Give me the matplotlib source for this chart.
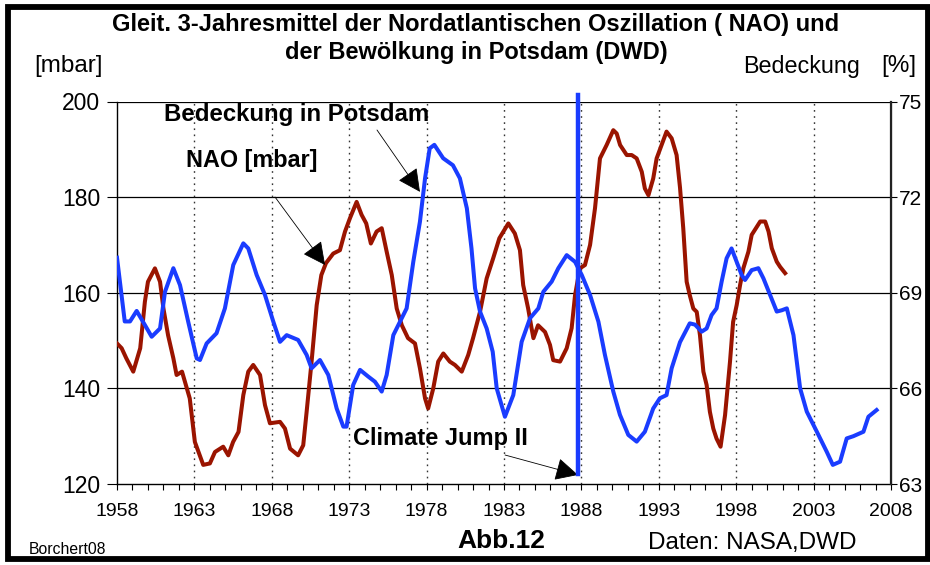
import matplotlib
matplotlib.use("Agg")
import matplotlib.pyplot as plt
from matplotlib.patches import Rectangle
from matplotlib.ticker import MultipleLocator

plt.rcParams['font.family'] = ['Liberation Sans', 'DejaVu Sans']

# ---- data -------------------------------------------------------------
bed_years = [1958.0, 1958.5, 1958.84, 1959.27, 1959.8, 1960.24, 1960.78, 1961.1, 1961.64, 1962.07,
             1962.6, 1963.15, 1963.36, 1963.79, 1964.43, 1964.97, 1965.51, 1966.16, 1966.48, 1967.02,
             1967.56, 1968.1, 1968.53, 1968.96, 1969.7, 1970.25, 1970.57, 1971.11, 1971.65, 1972.19,
             1972.62, 1972.83, 1973.26, 1973.7, 1974.23, 1974.66, 1975.1, 1975.42, 1975.85, 1976.28,
             1976.71, 1977.14, 1977.57, 1977.9, 1978.2, 1978.5, 1979.07, 1979.7, 1980.15, 1980.6,
             1980.9, 1981.13, 1981.45, 1981.88, 1982.27, 1982.53, 1983.06, 1983.6, 1984.14, 1984.68,
             1985.22, 1985.54, 1986.08, 1986.51, 1987.05, 1987.59, 1988.02, 1988.56, 1989.1, 1989.52,
             1990.06, 1990.49, 1991.03, 1991.57, 1992.1, 1992.64, 1993.07, 1993.5, 1993.83, 1994.37,
             1995.0, 1995.34, 1995.77, 1996.09, 1996.41, 1996.73, 1997.06, 1997.38, 1997.7, 1998.03,
             1998.35, 1998.57, 1999.0, 1999.43, 1999.76, 2000.19, 2000.62, 2000.94, 2001.27, 2001.7,
             2002.13, 2002.56, 2003.21, 2003.85, 2004.24, 2004.71, 2005.14, 2005.57, 2006.22, 2006.54,
             2007.07]
bed_pct = [70.1, 68.1, 68.1, 68.43, 67.99, 67.62, 67.88, 69.03, 69.77, 69.24,
           68.09, 66.94, 66.89, 67.41, 67.73, 68.51, 69.87, 70.55, 70.39, 69.56,
           68.93, 68.09, 67.46, 67.67, 67.52, 67.05, 66.63, 66.89, 66.42, 65.37,
           64.80, 64.80, 66.11, 66.58, 66.37, 66.21, 65.90, 66.42, 67.67, 68.09,
           68.51, 69.97, 71.23, 72.59, 73.53, 73.64, 73.22, 73.0, 72.59, 71.65,
           70.39, 69.14, 68.41, 67.88, 67.15, 66.0, 65.11, 65.79, 67.46, 68.2,
           68.51, 69.03, 69.35, 69.77, 70.18, 69.97, 69.56, 68.93, 68.09, 67.05,
           65.90, 65.17, 64.54, 64.33, 64.64, 65.37, 65.69, 65.79, 66.63, 67.45,
           68.04, 68.0, 67.78, 67.88, 68.3, 68.51, 69.35, 70.08, 70.39, 69.97,
           69.56, 69.4, 69.71, 69.77, 69.45, 68.93, 68.41, 68.45, 68.51, 67.67,
           66.0, 65.27, 64.64, 64.01, 63.6, 63.7, 64.43, 64.5, 64.64, 65.11,
           65.32]

nao_years = [1958.0, 1958.3, 1958.6, 1959.05, 1959.5, 1959.8, 1960.0, 1960.45, 1960.78, 1961.0,
             1961.3, 1961.64, 1961.85, 1962.2, 1962.7, 1963.03, 1963.57, 1964.0, 1964.33, 1964.86,
             1965.19, 1965.5, 1965.85, 1966.16, 1966.48, 1966.8, 1967.24, 1967.56, 1967.88, 1968.53,
             1968.85, 1969.18, 1969.7, 1970.03, 1970.25, 1970.57, 1970.9, 1971.2, 1971.5, 1971.97,
             1972.4, 1972.73, 1973.05, 1973.48, 1973.8, 1974.1, 1974.4, 1974.77, 1975.1, 1975.42,
             1975.75, 1976.07, 1976.4, 1976.8, 1977.25, 1977.57, 1977.9, 1978.1, 1978.43, 1978.75,
             1979.08, 1979.5, 1979.83, 1980.27, 1980.69, 1981.0, 1981.45, 1981.88, 1982.3, 1982.7,
             1982.96, 1983.28, 1983.7, 1984.03, 1984.24, 1984.56, 1984.78, 1984.9, 1985.2, 1985.65,
             1985.97, 1986.18, 1986.62, 1987.05, 1987.37, 1987.59, 1987.9, 1988.23, 1988.56, 1988.88,
             1989.2, 1989.63, 1990.06, 1990.28, 1990.5, 1990.93, 1991.25, 1991.57, 1991.9, 1992.1,
             1992.33, 1992.64, 1992.86, 1993.18, 1993.5, 1993.83, 1994.15, 1994.37, 1994.58, 1994.8,
             1995.0, 1995.23, 1995.45, 1995.66, 1995.88, 1996.09, 1996.3, 1996.52, 1996.73, 1996.99,
             1997.28, 1997.6, 1997.8, 1998.03, 1998.25, 1998.46, 1998.79, 1999.0, 1999.33, 1999.55,
             1999.87, 2000.09, 2000.3, 2000.62, 2000.84, 2001.16]
nao_mbar = [149.4, 148.4, 146.3, 143.5, 148.4, 158.1, 162.3, 165.1, 162.3, 156.7,
            151.1, 146.3, 142.8, 143.5, 137.9, 128.8, 124.0, 124.3, 126.7, 127.8,
            126.0, 128.8, 130.9, 138.6, 143.5, 144.9, 142.8, 136.5, 132.7, 133.0,
            131.6, 127.4, 126.0, 128.1, 135.1, 145.6, 157.4, 163.7, 166.2, 168.2,
            168.9, 172.8, 175.6, 179.0, 176.3, 174.5, 170.3, 172.8, 173.5, 168.6,
            163.7, 156.7, 153.2, 150.5, 149.4, 144.2, 137.9, 135.8, 140.0, 145.6,
            147.3, 145.6, 144.9, 143.5, 147.0, 150.5, 156.0, 163.0, 167.2, 171.4,
            172.8, 174.5, 172.4, 168.9, 161.6, 156.7, 152.6, 150.5, 153.2, 151.8,
            149.1, 145.9, 145.6, 148.4, 152.6, 159.5, 165.1, 165.8, 170.0, 177.7,
            188.1, 190.9, 194.0, 193.3, 190.9, 188.8, 188.8, 188.1, 185.3, 181.8,
            180.4, 183.9, 188.1, 190.9, 193.7, 192.3, 188.8, 182.0, 173.5, 162.3,
            159.5, 156.7, 156.0, 151.1, 143.5, 140.7, 135.1, 131.6, 129.5, 127.8,
            134.4, 145.6, 153.9, 157.4, 161.6, 165.1, 168.6, 172.1, 173.8, 174.9,
            174.9, 172.8, 169.3, 166.5, 165.4, 164.1]

jump_year = 1987.78
x_ticks = [1958, 1963, 1968, 1973, 1978, 1983, 1988, 1993, 1998, 2003, 2008]
left_ticks = [120, 140, 160, 180, 200]
right_ticks = [63, 66, 69, 72, 75]

# ---- figure -----------------------------------------------------------
W, H = 930, 565
fig = plt.figure(figsize=(W / 100, H / 100), dpi=100)
fig.patch.set_facecolor('white')


def fp(x, y):
    return (x / W, 1 - y / H)


L, R, T, B = 117, 891, 101.5, 484
ax = fig.add_axes([L / W, 1 - B / H, (R - L) / W, (B - T) / H])
ax2 = ax.twinx()

RED = '#9a1400'
BLUE = '#1a3cff'

ax.set_xlim(1958, 2008)
ax.set_ylim(120, 200)
ax2.set_ylim(63, 75)

for yv in left_ticks[1:]:
    ax.axhline(yv, color='black', lw=0.9, zorder=1)
for xv in x_ticks[1:-1]:
    ax.axvline(xv, color='#333333', lw=1.0, ls=(0, (1.2, 3.2)), zorder=1)

ax.plot(nao_years, nao_mbar, color=RED, lw=2.9, solid_joinstyle='round', zorder=3)
ax2.plot(bed_years, bed_pct, color=BLUE, lw=2.9, solid_joinstyle='round', zorder=3)
ax2.plot([jump_year, jump_year], [63.3, 75.2], color=BLUE, lw=3.2,
         clip_on=False, zorder=4)

for a in (ax, ax2):
    a.spines['top'].set_visible(False)
ax.spines['left'].set_linewidth(1.0)
ax.spines['bottom'].set_linewidth(1.0)
ax2.spines['right'].set_linewidth(1.6)
ax2.spines['right'].set_color('#222222')
ax2.spines['left'].set_visible(False)
ax2.spines['bottom'].set_visible(False)

ax.set_xticks(x_ticks)
ax.xaxis.set_minor_locator(MultipleLocator(1))
ax.tick_params(axis='x', which='both', direction='out', length=4.5, width=0.8,
               labelsize=14, pad=9)
ax.set_yticks(left_ticks)
ax.tick_params(axis='y', direction='out', length=7, width=0.8, labelsize=16.5, pad=5)
ax2.set_yticks(right_ticks)
ax2.tick_params(axis='y', direction='out', length=4, width=0.8, labelsize=15, pad=2)

# ---- annotations ------------------------------------------------------
arrow = dict(arrowstyle='-|>,head_length=0.9,head_width=0.45', color='black',
             lw=0.6, shrinkA=0, shrinkB=0, mutation_scale=16)
ax.annotate('', xy=(1977.57, 181.1), xycoords='data',
            xytext=fp(377, 130), textcoords='figure fraction', arrowprops=arrow)
ax.annotate('', xy=(1971.44, 165.8), xycoords='data',
            xytext=fp(275, 197), textcoords='figure fraction', arrowprops=arrow)
ax.annotate('', xy=(1987.78, 121.9), xycoords='data',
            xytext=fp(505, 455), textcoords='figure fraction', arrowprops=arrow)

fig.text(*fp(297, 115), 'Bedeckung in Potsdam', ha='center', va='center',
         fontsize=17.3, fontweight='bold')
fig.text(*fp(252, 161), 'NAO [mbar]', ha='center', va='center',
         fontsize=16.8, fontweight='bold')
fig.text(*fp(440, 439), 'Climate Jump II', ha='center', va='center',
         fontsize=17, fontweight='bold')

# ---- titles and labels ------------------------------------------------
fig.text(*fp(476, 25), 'Gleit. 3-Jahresmittel der Nordatlantischen Oszillation ( NAO) und',
         ha='center', va='center', fontsize=17, fontweight='bold')
fig.text(*fp(476, 53), 'der Bewölkung in Potsdam (DWD)',
         ha='center', va='center', fontsize=17, fontweight='bold')
fig.text(*fp(69, 66), '[mbar]', ha='center', va='center', fontsize=17.5)
fig.text(*fp(802, 66), 'Bedeckung', ha='center', va='center', fontsize=16.8)
fig.text(*fp(899, 66), '[%]', ha='center', va='center', fontsize=17.5)
fig.text(*fp(501, 541), 'Abb.12', ha='center', va='center', fontsize=19, fontweight='bold')
fig.text(*fp(752, 543), 'Daten: NASA,DWD', ha='center', va='center', fontsize=17.5)
fig.text(*fp(67, 550), 'Borchert08', ha='center', va='center', fontsize=11.3)

# ---- outer frame ------------------------------------------------------
frame = Rectangle(fp(7.5, 559), (928 - 7.5) / W, (559 - 7) / H,
                  transform=fig.transFigure, fill=False, edgecolor='black',
                  lw=4.2, zorder=100)
fig.patches.append(frame)

fig.savefig('out.png', dpi=100, facecolor='white')
